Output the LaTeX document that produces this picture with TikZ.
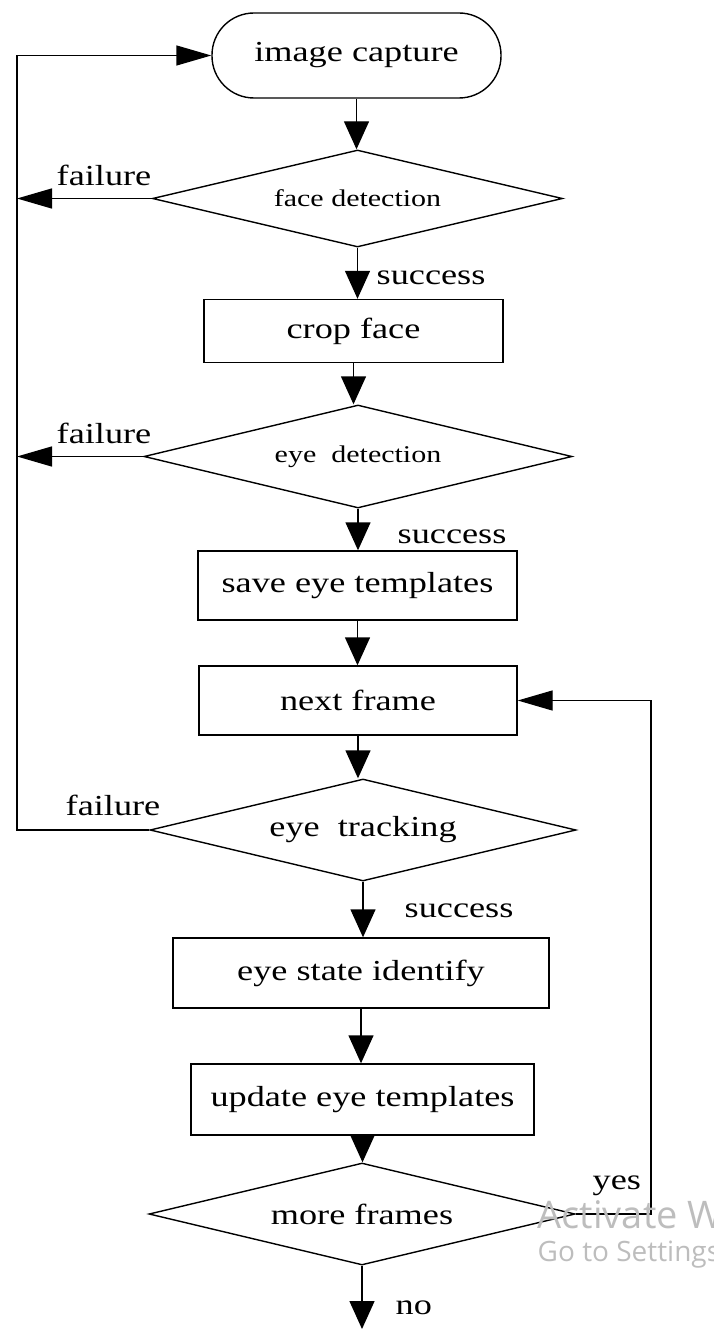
\documentclass[tikz,border=0pt]{standalone}
\usepackage{fontspec}
\setmainfont{Liberation Serif}[FakeStretch=1.25]
\newfontfamily\wmfont{Open Sans}
\usetikzlibrary{shapes.geometric,arrows.meta}
\begin{document}
\begin{tikzpicture}[x=1pt,y=1pt, line width=1.4pt,
  every node/.style={font=\fontsize{29}{34}\selectfont},
  box/.style={draw, rectangle, inner sep=0pt},
  term/.style={draw, rectangle, rounded corners=42pt, inner sep=0pt},
  dec/.style={draw, diamond, inner sep=0pt, aspect=4},
  small/.style={font=\fontsize{24}{28}\selectfont},
  varrow/.style={-{Triangle[length=28pt,width=25pt]}},
  harrow/.style={-{Triangle[length=35pt,width=20pt]}},
  lbl/.style={anchor=base west, inner sep=0pt},
  wm/.style={anchor=base west, inner sep=0pt, text=black!26},
]
\useasboundingbox (0,0) rectangle (713,-1329);

% nodes
\node[term, minimum width=289pt, minimum height=85pt] (cap) at (356.5,-55.5) {image capture};
\node[dec, small, minimum width=410pt, minimum height=97pt] (fd) at (357.5,-198.5) {face detection};
\node[box, minimum width=299pt, minimum height=63pt] (crop) at (353.5,-331) {crop face};
\node[dec, small, minimum width=428pt, minimum height=103pt] (ed) at (358,-456.5) {eye~~detection};
\node[box, minimum width=319pt, minimum height=69pt] (save) at (357.5,-585.5) {save eye templates};
\node[box, minimum width=318pt, minimum height=69pt] (next) at (358,-700.5) {next frame};
\node[dec, minimum width=426pt, minimum height=102pt] (et) at (363,-830) {eye~~tracking};
\node[box, minimum width=376pt, minimum height=70pt] (state) at (361,-973) {eye state identify};
\node[box, minimum width=343pt, minimum height=71pt] (upd) at (362.5,-1099.5) {update eye templates};
\node[dec, minimum width=426pt, minimum height=102pt] (mf) at (362,-1214) {more frames};

% helper coordinates
\coordinate (lt) at (17,-55.5);
\coordinate (rt) at (651,-700.5);
\coordinate (endpt) at (362,-1329);

% main flow
\draw[varrow] (cap.south) -- (cap.south |- fd.north);
\draw[varrow] (fd.south) -- (fd.south |- crop.north);
\draw[varrow] (crop.south) -- (crop.south |- ed.north);
\draw[varrow] (ed.south) -- (ed.south |- save.north);
\draw[varrow] (save.south) -- (save.south |- next.north);
\draw[varrow] (next.south) -- (next.south |- et.north);
\draw[varrow] (et.south) -- (et.south |- state.north);
\draw[varrow] (state.south) -- (state.south |- upd.north);
\draw[varrow] (upd.south) -- (upd.south |- mf.north);
\draw[varrow] (mf.south) -- (endpt);

% failure branches
\draw[harrow] (fd.west) -- (fd.west -| lt);
\draw[harrow] (ed.west) -- (ed.west -| lt);
\draw[harrow] (et.west) -| (lt) -- (cap.west);

% yes loop
\draw[harrow] (mf.east) -| (rt) -- (next.east);

% labels
\node[lbl] (l1) at (56,-186) {failure};
\node[lbl] (l2) at (56,-443) {failure};
\node[lbl] (l3) at (65,-815) {failure};
\node[lbl] (s1) at (376,-285) {success};
\node[lbl] (s2) at (397,-543) {success};
\node[lbl] (s3) at (404,-917) {success};
\node[lbl] (yes) at (592,-1189) {yes};
\node[lbl] (no) at (395,-1314) {no};

% screen watermark (cut off at the right edge, as in the reference)
\node[wm, font=\wmfont\fontsize{38}{40}\selectfont] (wm1) at (537,-1228) {Activate Windows};
\node[wm, font=\wmfont\fontsize{28}{30}\selectfont] (wm2) at (537,-1261) {Go to Settings to activate Windows.};
\end{tikzpicture}
\end{document}
